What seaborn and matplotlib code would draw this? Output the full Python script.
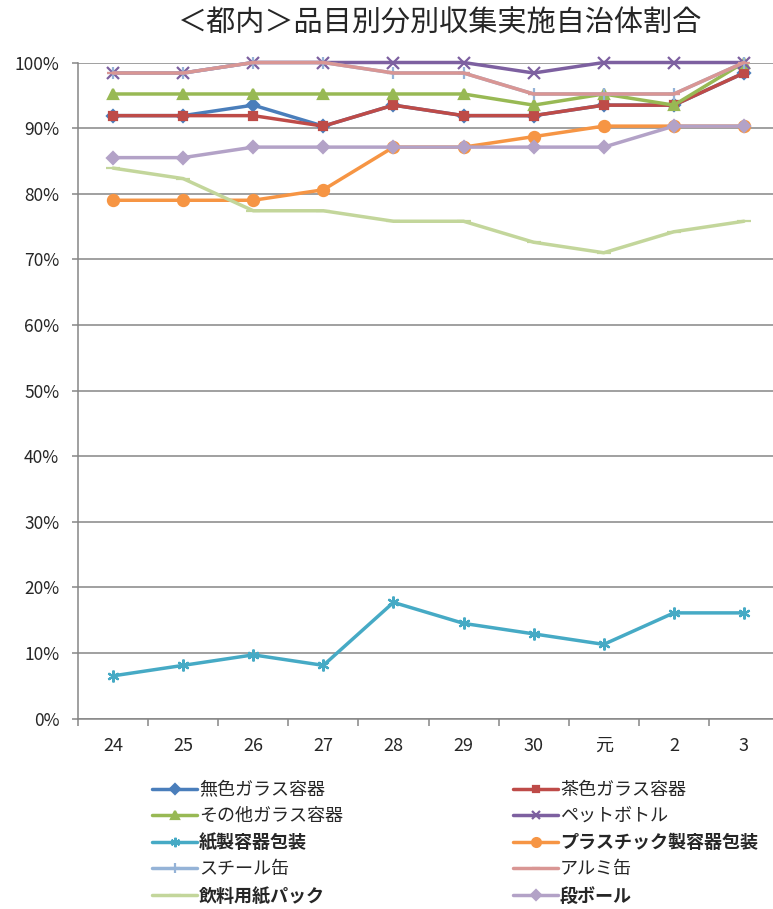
import numpy as np
import pandas as pd
import seaborn as sn
import matplotlib
matplotlib.use('Agg')
import matplotlib.pyplot as plt
from matplotlib.ticker import PercentFormatter, FixedLocator

# --- data (percent of municipalities) ---
years = ['24', '25', '26', '27', '28', '29', '30', '元', '2', '3']
series_names = ['無色ガラス容器', '茶色ガラス容器', 'その他ガラス容器', 'ペットボトル',
                '紙製容器包装', 'プラスチック製容器包装', 'スチール缶', 'アルミ缶',
                '飲料用紙パック', '段ボール']
clear_glass = [91.9, 91.9, 93.5, 90.3, 93.5, 91.9, 91.9, 93.5, 93.5, 98.4]
brown_glass = [91.9, 91.9, 91.9, 90.3, 93.5, 91.9, 91.9, 93.5, 93.5, 98.4]
other_glass = [95.2, 95.2, 95.2, 95.2, 95.2, 95.2, 93.5, 95.2, 93.5, 100.0]
pet_bottle = [98.4, 98.4, 100.0, 100.0, 100.0, 100.0, 98.4, 100.0, 100.0, 100.0]
paper_pack = [6.5, 8.1, 9.7, 8.1, 17.7, 14.5, 12.9, 11.3, 16.1, 16.1]
plastic_pack = [79.0, 79.0, 79.0, 80.6, 87.1, 87.1, 88.7, 90.3, 90.3, 90.3]
steel_can = [98.4, 98.4, 100.0, 100.0, 98.4, 98.4, 95.2, 95.2, 95.2, 100.0]
alu_can = [98.4, 98.4, 100.0, 100.0, 98.4, 98.4, 95.2, 95.2, 95.2, 100.0]
drink_carton = [83.9, 82.3, 77.4, 77.4, 75.8, 75.8, 72.6, 71.0, 74.2, 75.8]
cardboard = [85.5, 85.5, 87.1, 87.1, 87.1, 87.1, 87.1, 87.1, 90.3, 90.3]
all_values = [clear_glass, brown_glass, other_glass, pet_bottle, paper_pack,
              plastic_pack, steel_can, alu_can, drink_carton, cardboard]

colors = ['#4A7EBB', '#BE4B48', '#98B954', '#7D60A0', '#46AAC5',
          '#F69544', '#95B3D7', '#D99694', '#C3D69B', '#B3A2C7']
markers = ['D', 's', '^', 'x', (6, 2, 0), 'o', '+', '_', '_', 'D']
msizes = [6, 6, 7.5, 8, 8.5, 8, 9, 8, 10, 6]
bold_items = ['紙製容器包装', 'プラスチック製容器包装', '飲料用紙パック', '段ボール']

sn.set_theme(style='white')
plt.rcParams['font.family'] = ['Noto Sans CJK JP', 'DejaVu Sans']

fig = plt.figure(figsize=(7.73, 9.09), dpi=100)
ax = fig.add_axes([78/773, 1 - 718.5/909, (779 - 78)/773, (718.5 - 62.5)/909])

pos = np.arange(len(years))
handles = []
for name, vals, c, m, ms in zip(series_names, all_values, colors, markers, msizes):
    df = pd.DataFrame({'pos': pos, 'val': vals})
    sn.lineplot(data=df, x='pos', y='val', ax=ax, color=c, marker=m,
                markersize=ms, markeredgecolor=c, markerfacecolor=c,
                markeredgewidth=1.6, linewidth=2.5, clip_on=False, legend=False)
    line = ax.lines[-1]
    line.set_label(name)
    handles.append(line)

ax.set_xlim(-0.5, 9.5)
ax.set_ylim(0, 100)
ax.set_xlabel('')
ax.set_ylabel('')

ax.yaxis.set_major_locator(FixedLocator(np.arange(0, 101, 10)))
ax.yaxis.set_major_formatter(PercentFormatter(100, decimals=0))
ax.set_xticks(pos)
ax.set_xticklabels(years)
ax.set_xticks(np.arange(-0.5, 10, 1), minor=True)

ax.grid(axis='y', color='#868686', linewidth=1.1)
ax.set_axisbelow(True)
for s in ['top', 'right']:
    ax.spines[s].set_visible(False)
for s in ['left', 'bottom']:
    ax.spines[s].set_color('#868686')
    ax.spines[s].set_linewidth(1.1)

ax.tick_params(axis='y', which='major', left=True, length=4.5, width=1.1,
               color='#868686', pad=9, labelsize=12.5, labelcolor='#262626')
ax.tick_params(axis='x', which='major', bottom=False, length=0, pad=13,
               labelsize=13, labelcolor='#262626')
ax.tick_params(axis='x', which='minor', bottom=True, length=5, width=1.1,
               color='#868686')

fig.text(440/773, 1 - 23/909, '＜都内＞品目別分別収集実施自治体割合',
         ha='center', va='center', fontsize=21, color='#262626')

# legend in two columns, row-major order like the original
col1 = handles[0::2]
col2 = handles[1::2]
for hs, xl in [(col1, 152/773), (col2, 513/773)]:
    leg = fig.legend(handles=hs, labels=[h.get_label() for h in hs],
                     loc='upper left', bbox_to_anchor=(xl, 1 - 781/909),
                     frameon=False, borderpad=0, borderaxespad=0,
                     handlelength=2.5, handletextpad=0.1, labelspacing=0.45,
                     markerscale=0.8, fontsize=13, labelcolor='#262626')
    for t in leg.get_texts():
        if t.get_text() in bold_items:
            t.set_fontweight('bold')

plt.savefig('out.png', dpi=100)
plt.close()
